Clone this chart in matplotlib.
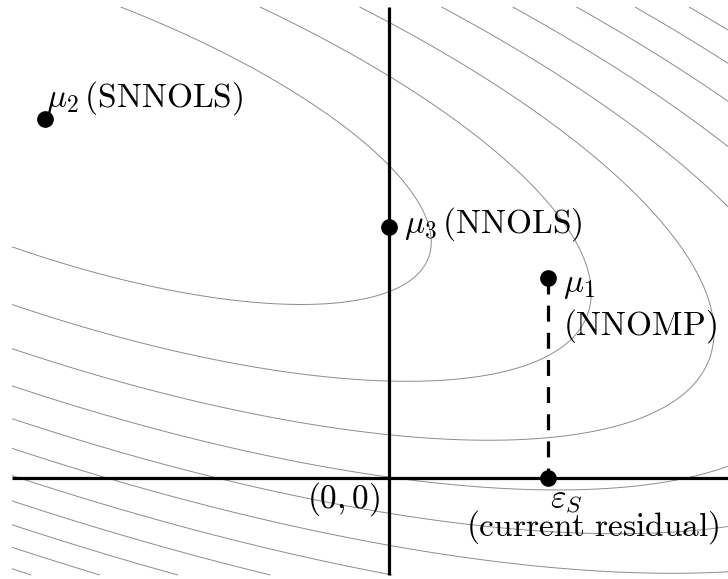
import numpy as np
import matplotlib
matplotlib.use("Agg")
import matplotlib.pyplot as plt

plt.rcParams["mathtext.fontset"] = "cm"

# Points of the sketch (data units, origin where the two axes cross)
mu1 = (1.59, 2.00)     # NNOMP
mu2 = (-3.44, 3.59)    # SNNOLS, centre of the bowl
mu3 = (0.0, 2.51)      # NNOLS
eps_s = (1.59, 0.0)    # current residual

# Quadratic bowl around mu2: f = qa*dx^2 + 2*qb*dx*dy + qc*dy^2
qa, qb, qc = 0.724, 1.0, 3.14
level_step = 6.05
levels = [level_step * k for k in range(1, 14)]

# visible window
x_lo, x_hi = -3.89, 3.39
y_lo, y_hi = -1.01, 4.78


def main():
    fig = plt.figure(figsize=(7.28, 5.79), dpi=100)
    ax = fig.add_axes([0, 0, 1, 1])
    ax.set_xlim(x_lo, x_hi)
    ax.set_ylim(y_lo, y_hi)
    ax.axis("off")

    # contour lines, clipped to a box a bit inside the figure
    gx = np.linspace(-3.77, 3.39, 600)
    gy = np.linspace(-0.97, 4.71, 600)
    X, Y = np.meshgrid(gx, gy)
    dx = X - mu2[0]
    dy = Y - mu2[1]
    F = qa * dx**2 + 2 * qb * dx * dy + qc * dy**2
    ax.contour(X, Y, F, levels=levels, colors="#8c8c8c", linewidths=0.7, zorder=1)

    # axes
    ax.plot([-3.77, x_hi], [0, 0], color="black", lw=2.3, zorder=2, solid_capstyle="butt")
    ax.plot([0, 0], [-0.97, 4.71], color="black", lw=2.3, zorder=2, solid_capstyle="butt")

    # dashed drop from mu1 to eps_S
    ax.plot([mu1[0], eps_s[0]], [mu1[1], eps_s[1]], color="black", lw=2.3,
            dashes=(5, 3.5), zorder=3)

    # the four points
    px = [mu1[0], mu2[0], mu3[0], eps_s[0]]
    py = [mu1[1], mu2[1], mu3[1], eps_s[1]]
    ax.plot(px, py, "o", color="black", ms=11, zorder=4)

    fs = 24
    ax.text(-3.43, 3.71, r"$\mu_2\,(\mathrm{SNNOLS})$", fontsize=fs, ha="left", va="baseline")
    ax.text(0.15, 2.45, r"$\mu_3\,(\mathrm{NNOLS})$", fontsize=fs, ha="left", va="baseline")
    ax.text(1.74, 1.86, r"$\mu_1$", fontsize=fs, ha="left", va="baseline")
    ax.text(1.74, 1.43, r"$(\mathrm{NNOMP})$", fontsize=fs, ha="left", va="baseline")
    ax.text(-0.09, -0.30, r"$(0,0)$", fontsize=fs, ha="right", va="baseline")
    ax.text(1.77, -0.29, r"$\varepsilon_S$", fontsize=fs, ha="center", va="baseline")
    ax.text(2.04, -0.58, r"$(\mathrm{current\ residual})$", fontsize=fs, ha="center", va="baseline")

    fig.savefig("out.png", dpi=100)


if __name__ == "__main__":
    main()
